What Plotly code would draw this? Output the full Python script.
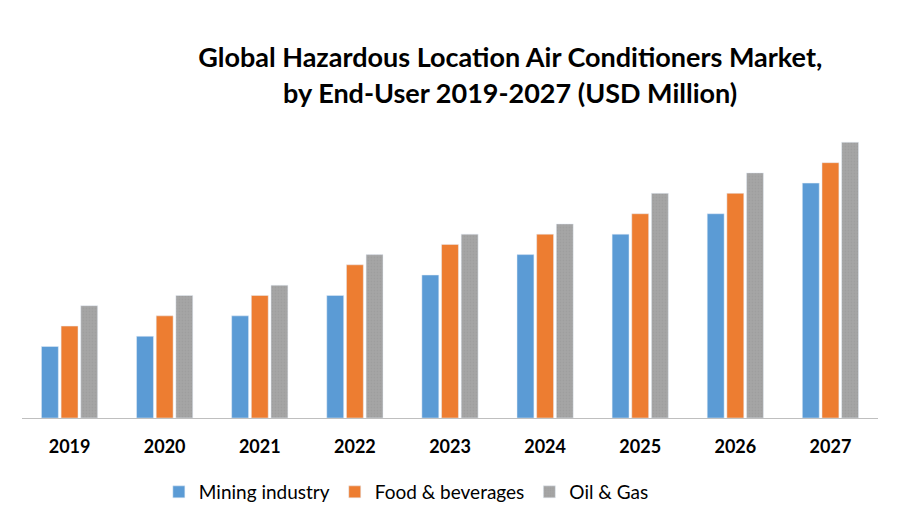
"""Global Hazardous Location Air Conditioners Market by end-user, grouped bars."""
import plotly.graph_objects as go

YEARS = ["2019", "2020", "2021", "2022", "2023", "2024", "2025", "2026", "2027"]
MINING = [7, 8, 10, 12, 14, 16, 18, 20, 23]
FOOD = [9, 10, 12, 15, 17, 18, 20, 22, 25]
OIL_GAS = [11, 12, 13, 16, 18, 19, 22, 24, 27]

FONT = "Lato"

fig = go.Figure()
fig.add_trace(go.Bar(x=YEARS, y=MINING, name="Mining industry", marker_color="#5B9BD5"))
fig.add_trace(go.Bar(x=YEARS, y=FOOD, name="Food & beverages", marker_color="#ED7D31"))
fig.add_trace(go.Bar(
    x=YEARS, y=OIL_GAS, name="Oil & Gas",
    marker=dict(color="#A5A5A5",
                pattern=dict(shape=".", fgcolor="#979797", bgcolor="#A5A5A5", size=3, solidity=0.3)),
))

# page body has an 8px margin, so the figure is a bit smaller than the window
fig.update_layout(
    width=892, height=517,
    paper_bgcolor="white", plot_bgcolor="white",
    margin=dict(l=14, r=22, t=122, b=107),
    barmode="group", bargap=0.38, bargroupgap=0.14,
    title=dict(
        text="<b>Global Hazardous Location Air Conditioners Market,<br>by End-User 2019-2027 (USD Million)</b>",
        x=0.563, xanchor="center", y=0.885, yanchor="top", yref="container",
        font=dict(family=FONT, size=27, color="black"),
    ),
    xaxis=dict(
        showline=True, linecolor="#BFBFBF", linewidth=1,
        showgrid=False, ticks="", ticklabelstandoff=12,
        tickfont=dict(family=FONT, size=18, color="black", weight="bold"),
    ),
    yaxis=dict(visible=False, range=[0, 28.2]),
    legend=dict(
        orientation="h", x=0.449, xanchor="center", y=-0.257, yanchor="middle",
        font=dict(family=FONT, size=19, color="black"),
        itemwidth=30, tracegroupgap=0,
    ),
    showlegend=True,
)

fig.write_html("out.html")
